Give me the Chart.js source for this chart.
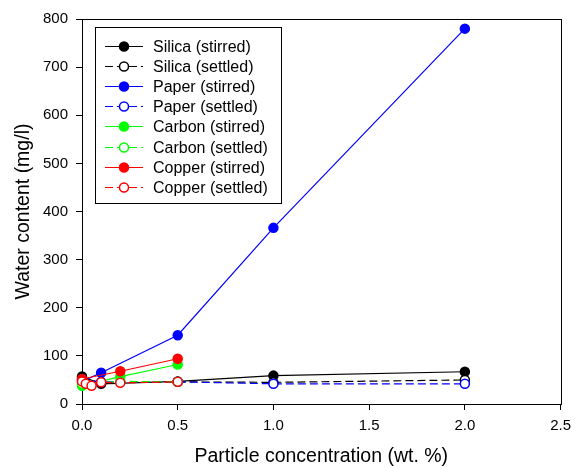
<!DOCTYPE html>
<html>
<head>
<meta charset="utf-8">
<script src="https://cdn.jsdelivr.net/npm/chart.js@4/dist/chart.umd.min.js"></script>
<style>
  html, body { margin: 0; padding: 0; background: #fff; }
  #wrap { width: 578px; height: 468px; }
</style>
</head>
<body>
<div id="wrap"><canvas id="chart"></canvas></div>
<script>
// данные
const seriesNames = ['Silica (stirred)', 'Silica (settled)', 'Paper (stirred)', 'Paper (settled)',
                     'Carbon (stirred)', 'Carbon (settled)', 'Copper (stirred)', 'Copper (settled)'];

const silicaX = [0, 0.1, 0.5, 1.0, 2.0];
const silicaStirred = [57, 42, 47, 59, 67];
const silicaSettled = [54, 44, 46, 45, 50];

const paperX = [0, 0.1, 0.5, 1.0, 2.0];
const paperStirred = [47, 65, 143, 366, 780];
const paperSettled = [50, 46, 46, 42, 42];

const carbonX = [0, 0.2, 0.5];
const carbonStirred = [38, 57, 82];
const carbonSettled = [42, 47, 46];

const copperStirredX = [0, 0.2, 0.5];
const copperStirred = [52, 68, 94];
const copperSettledX = [0, 0.02, 0.05, 0.1, 0.2, 0.5];
const copperSettled = [47, 42, 38, 45, 44, 46];

const xTicks = [0, 0.5, 1.0, 1.5, 2.0, 2.5];
const yTicks = [0, 100, 200, 300, 400, 500, 600, 700, 800];

const FONT = "'Liberation Sans', Arial, sans-serif";

function pts(xs, ys) {
    return xs.map((x, i) => ({ x: x, y: ys[i] }));
}

function makeSet(i, xs, ys, color, settled) {
    return {
        label: seriesNames[i],
        data: pts(xs, ys),
        borderColor: color,
        backgroundColor: settled ? '#ffffff' : color,
        borderWidth: 1.2,
        borderDash: settled ? [8, 4] : [],
        pointRadius: 4.5,
        pointHoverRadius: 4.5,
        pointBackgroundColor: settled ? '#ffffff' : color,
        pointBorderColor: color,
        pointBorderWidth: 1.5,
        tension: 0,
        fill: false,
        clip: false,
        order: 8 - i, // последние серии рисуются поверх
        settled: settled
    };
}

const datasets = [
    makeSet(0, silicaX, silicaStirred, '#000000', false),
    makeSet(1, silicaX, silicaSettled, '#000000', true),
    makeSet(2, paperX, paperStirred, '#0000ff', false),
    makeSet(3, paperX, paperSettled, '#0000ff', true),
    makeSet(4, carbonX, carbonStirred, '#00ff00', false),
    makeSet(5, carbonX, carbonSettled, '#00ff00', true),
    makeSet(6, copperStirredX, copperStirred, '#ff0000', false),
    makeSet(7, copperSettledX, copperSettled, '#ff0000', true)
];

// рамка вокруг области графика
const frame = {
    id: 'frame',
    beforeDatasetsDraw(chart) {
        const a = chart.chartArea;
        const c = chart.ctx;
        c.save();
        c.strokeStyle = '#000';
        c.lineWidth = 1;
        c.strokeRect(Math.round(a.left) + 0.5, Math.round(a.top) + 0.5,
                     Math.round(a.right - a.left), Math.round(a.bottom - a.top));
        c.restore();
    }
};

// легенда в рамке внутри графика
const boxLegend = {
    id: 'boxLegend',
    afterDraw(chart) {
        const c = chart.ctx;
        c.save();
        c.fillStyle = '#fff';
        c.fillRect(96, 28, 185, 175);
        c.strokeStyle = '#000';
        c.lineWidth = 1;
        c.strokeRect(95.5, 27.5, 186, 176);
        c.font = '16px ' + FONT;
        c.textBaseline = 'middle';
        chart.data.datasets.forEach((ds, i) => {
            const y = Math.round(46 + i * 20.1) + 0.5;
            c.strokeStyle = ds.borderColor;
            c.lineWidth = 1.2;
            c.setLineDash(ds.settled ? [8, 4] : []);
            c.beginPath();
            c.moveTo(105, y);
            c.lineTo(143, y);
            c.stroke();
            c.setLineDash([]);
            c.beginPath();
            c.arc(124, y, 4.5, 0, Math.PI * 2);
            c.fillStyle = ds.pointBackgroundColor;
            c.fill();
            c.lineWidth = 1.5;
            c.stroke();
            c.fillStyle = '#000';
            c.fillText(ds.label, 153, y + 1);
        });
        c.restore();
    }
};

new Chart(document.getElementById('chart'), {
    type: 'line',
    data: { datasets: datasets },
    options: {
        responsive: true,
        maintainAspectRatio: false,
        animation: false,
        events: [],
        layout: { padding: { left: 0, top: 19, right: 12, bottom: 0 } },
        plugins: {
            legend: { display: false },
            tooltip: { enabled: false }
        },
        scales: {
            x: {
                type: 'linear',
                min: 0,
                max: 2.5,
                afterFit(scale) { scale.height = 64; },
                afterBuildTicks(scale) { scale.ticks = xTicks.map(v => ({ value: v })); },
                ticks: {
                    color: '#000',
                    font: { family: FONT, size: 15 },
                    padding: 7,
                    maxRotation: 0,
                    callback: v => v.toFixed(1)
                },
                grid: { drawOnChartArea: false, tickLength: 6, color: '#000' },
                border: { color: '#000', width: 1 },
                title: {
                    display: true,
                    text: 'Particle concentration (wt. %)',
                    color: '#000',
                    font: { family: FONT, size: 19.5 },
                    padding: { top: 0, bottom: 0 }
                }
            },
            y: {
                min: 0,
                max: 800,
                afterFit(scale) { scale.width = 82; },
                afterBuildTicks(scale) { scale.ticks = yTicks.map(v => ({ value: v })); },
                ticks: {
                    color: '#000',
                    font: { family: FONT, size: 15 },
                    padding: 8
                },
                grid: { drawOnChartArea: false, tickLength: 6, color: '#000' },
                border: { color: '#000', width: 1 },
                title: {
                    display: true,
                    text: 'Water content (mg/l)',
                    color: '#000',
                    font: { family: FONT, size: 19.5 },
                    padding: { top: 12, bottom: 0 }
                }
            }
        }
    },
    plugins: [frame, boxLegend]
});
</script>
</body>
</html>
